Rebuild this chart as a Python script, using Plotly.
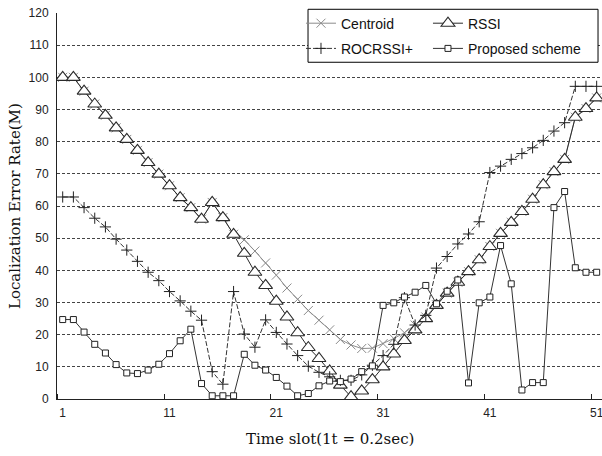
import plotly.graph_objects as go

time_slots = list(range(1, 52))

centroid = [100, 100, 95.7, 91.7, 88.2, 84.3, 80.7, 77.3, 73.5, 69.9,
            66.3, 62.6, 59.5, 55.9, 61.1, 56.4, 51.2, 49.5, 46.0, 42.3,
            38.5, 34.5, 31.0, 27.5, 24.5, 21.5, 18.5, 16.8, 15.7, 15.8,
            17.2, 18.8, 20.6, 23.0, 25.5, 29.3, 32.9, 36.3, 39.6, 43.3,
            47.4, 51.5, 54.9, 58.3, 62.1, 66.6, 70.7, 74.5, 87.6, 90.3,
            93.6]

rssi = [100, 100, 95.7, 91.7, 88.2, 84.3, 80.7, 77.3, 73.5, 69.9,
        66.3, 62.6, 59.5, 55.9, 61.1, 56.4, 51.2, 45.3, 39.4, 35.3,
        30.4, 25.5, 20.6, 16.0, 12.6, 8.7, 4.3, 0.7, 2.5, 6.0,
        10.0, 14.0, 18.2, 21.5, 25.0, 29.1, 32.9, 36.3, 39.6, 43.3,
        47.4, 51.5, 54.9, 58.3, 62.1, 66.6, 70.7, 74.5, 87.6, 90.3,
        93.6]

rocrssi = [62.8, 62.8, 59.5, 56.2, 53.5, 49.7, 46.3, 42.8, 39.4, 36.8,
           33.4, 30.5, 27.3, 24.5, 8.5, 4.6, 33.4, 20.2, 16.1, 24.6,
           20.7, 17.1, 13.5, 10.2, 8.3, 6.9, 5.8, 5.8, 7.5, 10.5,
           13.5, 17.0, 31.5, 23.0, 26.0, 40.7, 44.3, 48.2, 51.3, 55.1,
           70.4, 72.4, 74.5, 76.3, 78.1, 80.4, 83.3, 85.9, 97.2, 97.2,
           97.2]

proposed = [24.7, 24.7, 20.8, 17.0, 14.3, 10.7, 8.1, 7.9, 9.0, 10.8,
            14.1, 18.1, 21.7, 4.8, 1.0, 1.0, 1.0, 13.9, 10.5, 9.0,
            6.7, 4.0, 1.0, 1.7, 4.1, 5.6, 5.4, 6.2, 8.5, 10.3,
            29.1, 29.9, 31.7, 33.2, 35.3, 29.6, 33.5, 37.0, 5.0, 29.9,
            31.7, 47.7, 35.8, 2.8, 5.1, 5.1, 59.5, 64.5, 40.8, 39.4,
            39.4]

x_tick_vals = [1, 11, 21, 31, 41, 51]
x_tick_text = ["1", "11", "21", "31", "41", "51"]
x_minor_ticks = [0.5, 10.5, 20.5, 30.5, 40.5, 50.5]
y_tick_vals = list(range(0, 121, 10))

fig = go.Figure()

fig.add_trace(go.Scatter(
    x=time_slots, y=centroid, name="Centroid", mode="lines+markers",
    legend="legend", legendgroup="g1",
    line=dict(color="#8c8c8c", width=1),
    marker=dict(symbol="x-thin-open", size=9, color="#8c8c8c",
                line=dict(color="#8c8c8c", width=1))))

fig.add_trace(go.Scatter(
    x=time_slots, y=rssi, name="RSSI", mode="lines+markers",
    legend="legend2", legendgroup="g2",
    line=dict(color="#2a2a2a", width=1),
    marker=dict(symbol="triangle-up", size=12, color="white",
                line=dict(color="#2a2a2a", width=1.1))))

fig.add_trace(go.Scatter(
    x=time_slots, y=rocrssi, name="ROCRSSI+", mode="lines+markers",
    legend="legend", legendgroup="g3",
    line=dict(color="#333333", width=1, dash="5px,2px"),
    marker=dict(symbol="cross-thin-open", size=8, color="#222222",
                line=dict(color="#222222", width=1))))

fig.add_trace(go.Scatter(
    x=time_slots, y=proposed, name="Proposed scheme", mode="lines+markers",
    legend="legend2", legendgroup="g4",
    line=dict(color="#333333", width=1),
    marker=dict(symbol="square", size=6, color="white",
                line=dict(color="#222222", width=1))))

legend_font = dict(family="Liberation Sans, Arial, sans-serif", size=14, color="#111")

fig.update_layout(
    width=602, height=456,
    margin=dict(l=57, r=0, t=13, b=57, autoexpand=False),
    paper_bgcolor="white", plot_bgcolor="white",
    font=dict(family="Liberation Sans, Arial, sans-serif", size=12, color="#222"),
    showlegend=True,
    legend=dict(
        orientation="v", x=0.4477, xanchor="left", y=1.014, yanchor="top",
        bgcolor="rgba(0,0,0,0)", borderwidth=0, font=legend_font,
        tracegroupgap=4,
    ),
    legend2=dict(
        orientation="v", x=0.6807, xanchor="left", y=1.014, yanchor="top",
        bgcolor="rgba(0,0,0,0)", borderwidth=0, font=legend_font,
        tracegroupgap=4,
    ),
    shapes=[dict(
        type="rect", xref="paper", yref="paper",
        x0=0.4606, x1=0.9927, y0=0.8724, y1=1.0096,
        line=dict(color="black", width=1), fillcolor="white", layer="above",
    )],
)

fig.update_xaxes(
    range=[0.466, 51.5], tickmode="array", tickvals=x_tick_vals, ticktext=x_tick_text,
    ticks="", ticklen=0, showgrid=False, zeroline=False,
    showline=True, linecolor="#222", linewidth=1,
    tickfont=dict(size=12, color="#222"), ticklabelstandoff=3,
    ticklabeloverflow="allow",
    minor=dict(tickmode="array", tickvals=x_minor_ticks, ticks="inside",
               ticklen=5, tickcolor="#222", showgrid=False),
)

fig.update_yaxes(
    range=[0, 120], tickmode="array", tickvals=y_tick_vals,
    ticks="", showgrid=True, gridcolor="#444", griddash="3px,2px", gridwidth=1,
    zeroline=False, showline=True, linecolor="#222", linewidth=1,
    tickfont=dict(size=12, color="#222"), ticklabelstandoff=5,
    ticklabeloverflow="allow",
)

fig.add_annotation(
    text="Localization Error Rate(M)", xref="paper", yref="paper",
    x=-0.077, y=0.5, xanchor="center", yanchor="middle", textangle=-90,
    showarrow=False, font=dict(family="DejaVu Serif, serif", size=15, color="#111"))

fig.add_annotation(
    text="Time slot(1t = 0.2sec)", xref="paper", yref="paper",
    x=0.5, y=-0.103, xanchor="center", yanchor="middle",
    showarrow=False, font=dict(family="DejaVu Serif, serif", size=15, color="#111"))

# Remove the browser's default 8px body margin so the figure sits at the page origin.
fig.write_html("out.html", config={"displayModeBar": False},
               post_script="document.body.style.margin='0px';")
